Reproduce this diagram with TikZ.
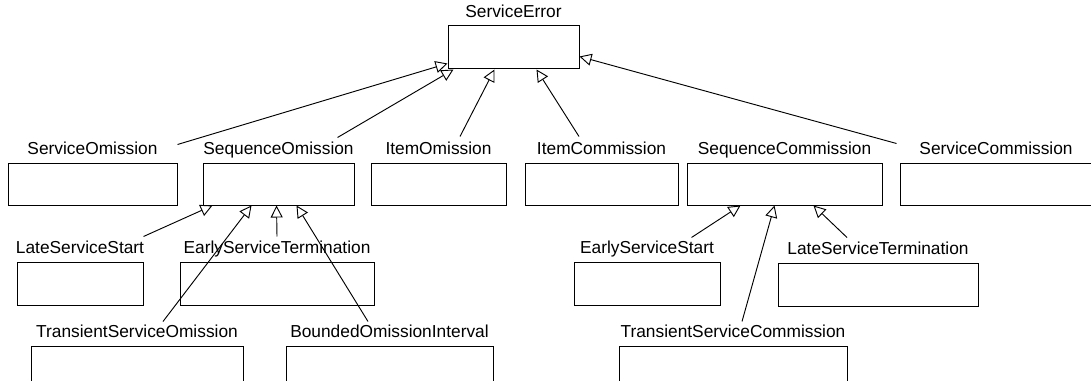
\documentclass[tikz,border=0pt]{standalone}
\usepackage{fontspec}
\setmainfont{Liberation Sans}
\usetikzlibrary{fit,calc,arrows.meta}
\tikzset{
  clsbox/.style={draw=black, line width=0.75pt, inner sep=0pt, fill=none},
  clslbl/.style={anchor=base, inner sep=0pt, font=\fontsize{13}{15}\selectfont},
  gen/.style={draw=black, line width=0.7pt, -{Triangle[open, length=9pt, width=9pt, line width=0.7pt]}}
}
\newcommand\umlcls[6]{%
  \node[clsbox, fit={(#2,#3) (#4,#5)}] (#1) {};
  \node[clslbl] (#1-l) at ($(#1.north)+(0,-8)$) {#6};
}
\begin{document}
\begin{tikzpicture}[x=0.75pt, y=-0.75pt]
\useasboundingbox (0,0) rectangle (1091,381);
\begin{scope}
\clip (0,0) rectangle (1091,381);
% top
\umlcls{se}{448}{26}{579}{69}{ServiceError}
% row 1
\umlcls{so}{8}{163}{177}{205}{ServiceOmission}
\umlcls{sqo}{203}{163}{354}{205}{SequenceOmission}
\umlcls{io}{371}{163}{506}{205}{ItemOmission}
\umlcls{ic}{525}{163}{678}{205}{ItemCommission}
\umlcls{sqc}{687}{163}{882}{205}{SequenceCommission}
\umlcls{sc}{900}{163}{1092}{205}{ServiceCommission}
% row 2
\umlcls{lss}{17}{262}{143}{305}{LateServiceStart}
\umlcls{est}{180}{262}{374}{305}{EarlyServiceTermination}
\umlcls{ess}{574}{262}{720}{305}{EarlyServiceStart}
\umlcls{lst}{778}{263}{978}{306}{LateServiceTermination}
% row 3
\umlcls{tso}{31}{346}{243}{392}{TransientServiceOmission}
\umlcls{boi}{286}{346}{493}{392}{BoundedOmissionInterval}
\umlcls{tsc}{619}{346}{847}{392}{TransientServiceCommission}
% generalizations to ServiceError
\draw[gen] ($(so.north east)+(0,-18)$) -- ($(se.south west)+(0,-6)$);
\draw[gen] ($(sqo.north east)+(-17,-25)$) -- ($(se.south west)+(6,0)$);
\draw[gen] ($(io.north)+(21.5,-26)$) -- ($(se.south west)+(47,0)$);
\draw[gen] ($(ic.north)+(-22.5,-26)$) -- ($(se.south west)+(89,0)$);
\draw[gen] ($(sc.north west)+(-3,-19)$) -- ($(se.south east)+(0,-13)$);
% to SequenceOmission
\draw[gen] ($(lss.north east)+(0,-25)$) -- ($(sqo.south west)+(10,0)$);
\draw[gen] ($(tso.north)+(26,-24)$) -- ($(sqo.south west)+(49,0)$);
\draw[gen] ($(est.north)+(0,-25)$) -- ($(sqo.south west)+(74,0)$);
\draw[gen] ($(boi.north)+(-21.5,-24)$) -- ($(sqo.south west)+(94,0)$);
% to SequenceCommission
\draw[gen] ($(ess.north east)+(-29,-24)$) -- ($(sqc.south west)+(54,0)$);
\draw[gen] ($(tsc.north)+(9,-24)$) -- ($(sqc.south west)+(88,0)$);
\draw[gen] ($(lst.north)+(-31,-25)$) -- ($(sqc.south west)+(127,0)$);
\end{scope}
\end{tikzpicture}
\end{document}
